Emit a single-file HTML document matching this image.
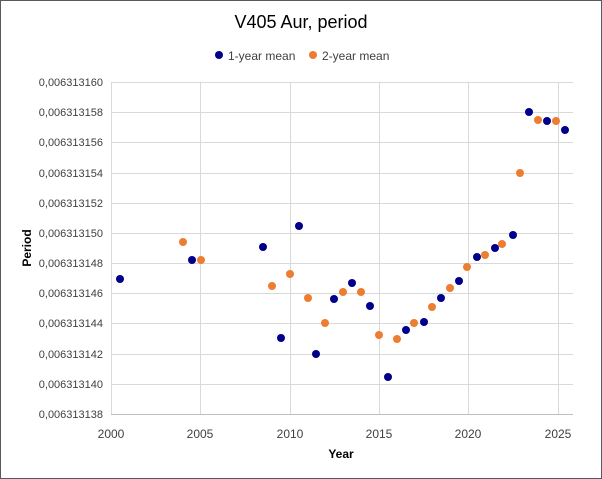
<!DOCTYPE html>
<html><head><meta charset="utf-8"><style>
body{margin:0;background:#fff}
svg{display:block;font-family:"Liberation Sans",sans-serif}
</style></head><body>
<svg width="602" height="479" viewBox="0 0 602 479">
<rect x="0.5" y="0.5" width="601" height="478" fill="#fff" stroke="#595959"/>
<text x="301" y="28" font-size="18" text-anchor="middle" fill="#000">V405 Aur, period</text>
<circle cx="219" cy="55" r="4" fill="#00008b"/><text x="228" y="60" font-size="12" fill="#404040">1-year mean</text>
<circle cx="313" cy="55" r="4" fill="#ed7d31"/><text x="322" y="60" font-size="12" fill="#404040">2-year mean</text>
<g stroke="#d9d9d9" stroke-width="1">
<line x1="111" y1="82.5" x2="573" y2="82.5"/><line x1="111" y1="112.5" x2="573" y2="112.5"/><line x1="111" y1="142.5" x2="573" y2="142.5"/><line x1="111" y1="173.5" x2="573" y2="173.5"/><line x1="111" y1="203.5" x2="573" y2="203.5"/><line x1="111" y1="233.5" x2="573" y2="233.5"/><line x1="111" y1="263.5" x2="573" y2="263.5"/><line x1="111" y1="293.5" x2="573" y2="293.5"/><line x1="111" y1="323.5" x2="573" y2="323.5"/><line x1="111" y1="354.5" x2="573" y2="354.5"/><line x1="111" y1="384.5" x2="573" y2="384.5"/>
<line x1="111.5" y1="82" x2="111.5" y2="415"/><line x1="200.5" y1="82" x2="200.5" y2="415"/><line x1="290.5" y1="82" x2="290.5" y2="415"/><line x1="379.5" y1="82" x2="379.5" y2="415"/><line x1="468.5" y1="82" x2="468.5" y2="415"/><line x1="558.5" y1="82" x2="558.5" y2="415"/>
</g>
<line x1="111" y1="414.5" x2="573" y2="414.5" stroke="#bfbfbf"/>
<g font-size="11" fill="#404040" text-anchor="end">
<text x="103" y="86">0,006313160</text><text x="103" y="116">0,006313158</text><text x="103" y="146">0,006313156</text><text x="103" y="177">0,006313154</text><text x="103" y="207">0,006313152</text><text x="103" y="237">0,006313150</text><text x="103" y="267">0,006313148</text><text x="103" y="297">0,006313146</text><text x="103" y="327">0,006313144</text><text x="103" y="358">0,006313142</text><text x="103" y="388">0,006313140</text><text x="103" y="418">0,006313138</text>
</g>
<g font-size="12" fill="#404040" text-anchor="middle">
<text x="111" y="438">2000</text><text x="200" y="438">2005</text><text x="290" y="438">2010</text><text x="379" y="438">2015</text><text x="468" y="438">2020</text><text x="558" y="438">2025</text>
</g>
<text x="341" y="458" font-size="12" font-weight="bold" text-anchor="middle" fill="#000">Year</text>
<text transform="translate(31 248) rotate(-90)" font-size="12" font-weight="bold" text-anchor="middle" fill="#000">Period</text>
<g fill="#00008b">
<circle cx="120" cy="279" r="4"/><circle cx="192" cy="260" r="4"/><circle cx="263" cy="247" r="4"/><circle cx="281" cy="338" r="4"/><circle cx="299" cy="226" r="4"/><circle cx="316" cy="354" r="4"/><circle cx="334" cy="299" r="4"/><circle cx="352" cy="283" r="4"/><circle cx="370" cy="306" r="4"/><circle cx="388" cy="377" r="4"/><circle cx="406" cy="330" r="4"/><circle cx="424" cy="322" r="4"/><circle cx="441" cy="298" r="4"/><circle cx="459" cy="281" r="4"/><circle cx="477" cy="257" r="4"/><circle cx="495" cy="248" r="4"/><circle cx="513" cy="235" r="4"/><circle cx="529" cy="112" r="4"/><circle cx="547" cy="121" r="4"/><circle cx="565" cy="130" r="4"/>
</g>
<g fill="#ed7d31">
<circle cx="183" cy="242" r="4"/><circle cx="201" cy="260" r="4"/><circle cx="272" cy="286" r="4"/><circle cx="290" cy="274" r="4"/><circle cx="308" cy="298" r="4"/><circle cx="325" cy="323" r="4"/><circle cx="343" cy="292" r="4"/><circle cx="361" cy="292" r="4"/><circle cx="379" cy="335" r="4"/><circle cx="397" cy="339" r="4"/><circle cx="414" cy="323" r="4"/><circle cx="432" cy="307" r="4"/><circle cx="450" cy="288" r="4"/><circle cx="467" cy="267" r="4"/><circle cx="485" cy="255" r="4"/><circle cx="502" cy="244" r="4"/><circle cx="520" cy="173" r="4"/><circle cx="538" cy="120" r="4"/><circle cx="556" cy="121" r="4"/>
</g>
</svg>
</body></html>
